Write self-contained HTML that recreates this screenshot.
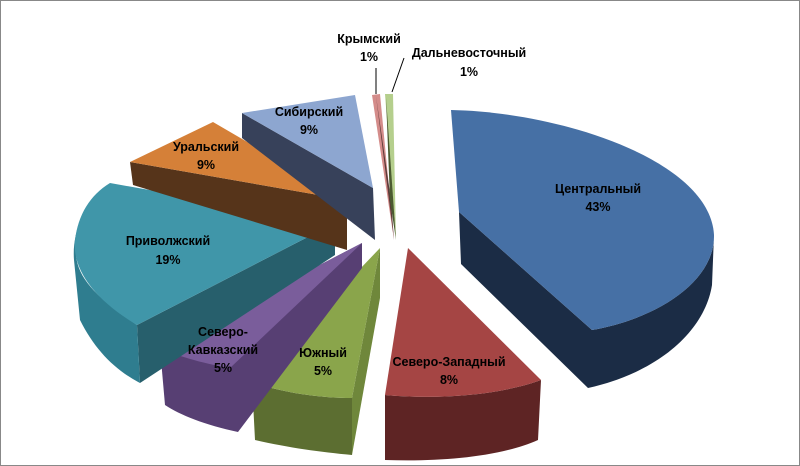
<!DOCTYPE html>
<html><head><meta charset="utf-8"><style>
body{margin:0;background:#fff}
svg{display:block}
text{font-family:"Liberation Sans",sans-serif;font-weight:bold;font-size:12.5px;fill:#000;text-anchor:middle}
</style></head><body>
<svg width="800" height="466" viewBox="0 0 800 466">
<rect x="0.5" y="0.5" width="799" height="465" fill="#fff" stroke="#888"/>
<!-- Central -->
<path d="M459,212 L592,330 C660,318 715,280 714,235 L712,285 C705,330 660,372 588,388 L461,264 Z" fill="#1b2c45"/>
<path d="M459,212 L451,110 C560,112 710,160 714,235 C715,280 660,318 592,330 Z" fill="#4670a5"/>
<!-- Severo-Zapadny -->
<path d="M385,395 L385,460 C440,462 500,457 538,440 L541,380 C500,395 440,400 385,395Z" fill="#5e2424"/>
<path d="M408,248 L385,395 C440,400 500,395 541,380 Z" fill="#a54544"/>
<!-- Yuzhny -->
<path d="M380,248 L380,298 L352,455 L352,398 Z" fill="#6f873b"/>
<path d="M252,382 L255,440 C290,448 320,452 352,455 L352,398 C318,398 280,392 252,382Z" fill="#5c6e31"/>
<path d="M380,248 L352,398 C318,398 280,392 252,382 Z" fill="#8aa54b"/>
<!-- Caucasus -->
<path d="M362,243 L362,268 L238,432 C205,425 180,415 165,405 L160,348 Z" fill="#573f73"/>
<path d="M362,243 L160,348 C175,355 200,363 230,368 Z" fill="#7a5d9b"/>
<!-- Volga -->
<path d="M335,223 L335,255 L140,383 L137,325 Z" fill="#275f6c"/>
<path d="M108,185 C82,205 72,235 74,260 L80,320 C95,350 115,370 140,383 L137,325 C100,300 78,280 76,255 Z" fill="#2f7d8f"/>
<path d="M335,223 L137,325 C95,300 72,270 75,240 C78,215 90,195 110,183 Z" fill="#4096a9"/>
<!-- Ural -->
<path d="M130,162 L133,185 L347,250 L347,200 Z" fill="#56341a"/>
<path d="M213,122 L130,162 L347,200 Z" fill="#d58038"/>
<!-- Siberian -->
<path d="M242,113 L242,138 L375,240 L373,188 Z" fill="#37415a"/>
<path d="M242,113 L355,95 L373,188 Z" fill="#8da6d0"/>
<!-- Crimean & Far East -->
<path d="M372,95 L380,94 L394,240 Z" fill="#d48c8a"/>
<path d="M376,96 L394,240 L391,200 Z" fill="#5b3c3a"/>
<path d="M385,94 L393,94 L396,240 Z" fill="#b5cf8d"/>
<path d="M386,97 L396,240 L390,200 Z" fill="#4b5a30"/>
<line x1="376" y1="68" x2="376" y2="94" stroke="#000" stroke-width="1"/>
<line x1="404" y1="58" x2="392" y2="92" stroke="#000" stroke-width="1"/>
<text x="598" y="193">Центральный</text><text x="598" y="211">43%</text>
<text x="449" y="366">Северо-Западный</text><text x="449" y="384">8%</text>
<text x="323" y="357">Южный</text><text x="323" y="375">5%</text>
<text x="223" y="336">Северо-</text><text x="223" y="354">Кавказский</text><text x="223" y="372">5%</text>
<text x="168" y="245">Приволжский</text><text x="168" y="264">19%</text>
<text x="206" y="151">Уральский</text><text x="206" y="169">9%</text>
<text x="309" y="116">Сибирский</text><text x="309" y="134">9%</text>
<text x="369" y="43">Крымский</text><text x="369" y="61">1%</text>
<text x="469" y="57">Дальневосточный</text><text x="469" y="76">1%</text>
</svg>
</body></html>
